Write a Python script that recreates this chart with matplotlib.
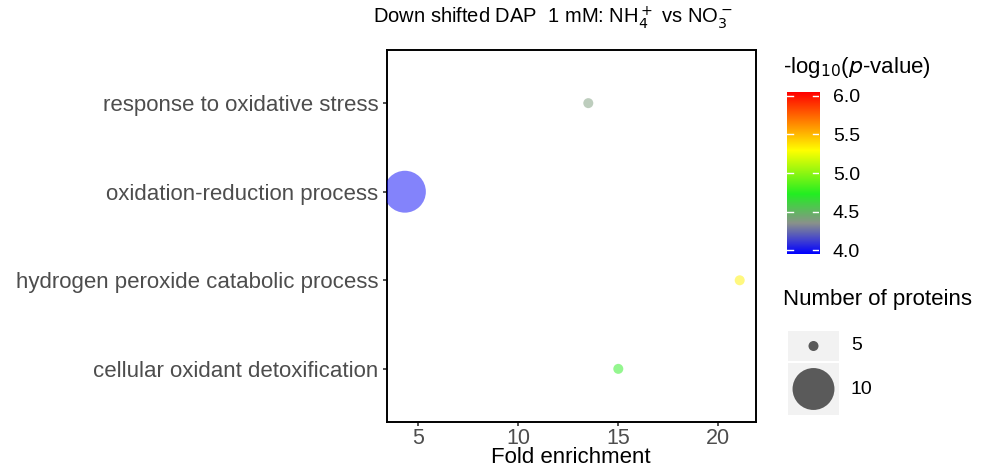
import numpy as np
import matplotlib.pyplot as plt
from matplotlib.colors import LinearSegmentedColormap, Normalize
from matplotlib.patches import Rectangle

plt.rcParams['font.family'] = ['Liberation Sans', 'DejaVu Sans']

# data
terms = ["cellular oxidant detoxification",
         "hydrogen peroxide catabolic process",
         "oxidation-reduction process",
         "response to oxidative stress"]
fold_enrichment = [15.0, 21.07, 4.33, 13.5]
neg_log_p = [4.75, 5.33, 3.98, 4.4]
n_proteins = [5, 5, 10, 5]

x_ticks = [5, 10, 15, 20]
cbar_ticks = [4.0, 4.5, 5.0, 5.5, 6.0]
size_breaks = [5, 10]

W, H = 981, 476
fig = plt.figure(figsize=(W / 100, H / 100), dpi=100)


def px_axes(x0, y0, x1, y1):
    return fig.add_axes([x0 / W, 1 - y1 / H, (x1 - x0) / W, (y1 - y0) / H])


def px_text(x, y, s, **kw):
    return fig.text(x / W, 1 - y / H, s, **kw)


cmap = LinearSegmentedColormap.from_list(
    "pv", [(0.0, "#0000ff"), (0.09, "#4646cc"), (0.19, "#8a928a"),
           (0.37, "#22ee22"), (0.64, "#ffff00"), (1.0, "#ff0000")])
norm = Normalize(3.95, 6.05)


def size_of(n):
    # area grows linearly between the legend breaks
    s_small, s_big = 52, 910
    return s_small + (np.asarray(n) - 5) / 5 * (s_big - s_small)


# main panel
ax = px_axes(386.7, 50, 755.7, 422)
ypos = np.arange(1, len(terms) + 1)
ax.scatter(fold_enrichment, ypos, s=size_of(n_proteins),
           c=cmap(norm(neg_log_p)), alpha=0.5, edgecolors='none', zorder=3)
ax.set_xlim(3.42, 21.87)
ax.set_ylim(0.4, len(terms) + 0.6)
ax.set_xticks(x_ticks)
ax.set_yticks(ypos)
ax.set_yticklabels(terms)
ax.tick_params(axis='both', labelcolor='#4d4d4d', length=3,
               width=1.2, color='#333333')
ax.tick_params(axis='y', labelsize=16, pad=3)
ax.tick_params(axis='x', labelsize=15.5, pad=1)
for sp in ax.spines.values():
    sp.set_linewidth(1.4)
    sp.set_color('black')
ax.set_xlabel("Fold enrichment", fontsize=16, labelpad=-1)

px_text(553, 18, "Down shifted DAP  1 mM: NH$_4^+$ vs NO$_3^-$",
        fontsize=14.5, ha='center', va='center')

# colour bar
cax = px_axes(787, 92, 819, 254)
grad = np.linspace(3.95, 6.05, 256).reshape(-1, 1)
cax.imshow(grad, aspect='auto', cmap=cmap, norm=norm, origin='lower',
           extent=[0, 1, 3.95, 6.05])
cax.set_xlim(0, 1)
cax.set_ylim(3.95, 6.05)
cax.set_xticks([])
cax.yaxis.tick_right()
cax.set_yticks(cbar_ticks)
cax.set_yticklabels([f"{t:.1f}" for t in cbar_ticks])
cax.tick_params(axis='y', length=0, labelsize=14, pad=10)
for t in cbar_ticks:
    cax.plot([0, 0.2], [t, t], color='white', lw=1)
    cax.plot([0.8, 1], [t, t], color='white', lw=1)
for sp in cax.spines.values():
    sp.set_visible(False)
px_text(783, 67, "-log$_{10}$($p$-value)", fontsize=16, ha='left', va='center')

# size legend
px_text(783, 300, "Number of proteins", fontsize=16, ha='left', va='center')
lax = px_axes(788, 331, 839, 415)
lax.set_xlim(0, 51)
lax.set_ylim(84, 0)
lax.axis('off')
key_rows = [(0, 30), (32, 84)]
for (y0, y1), b in zip(key_rows, size_breaks):
    lax.add_patch(Rectangle((0, y0), 51, y1 - y0, facecolor='#f2f2f2',
                            edgecolor='none'))
    lax.scatter([25.5], [(y0 + y1) / 2], s=size_of(b), color='#5a5a5a',
                edgecolors='none', zorder=3)
    px_text(851, 331 + (y0 + y1) / 2, str(b), fontsize=14,
            ha='left', va='center')

fig.savefig("out.png", dpi=100)
